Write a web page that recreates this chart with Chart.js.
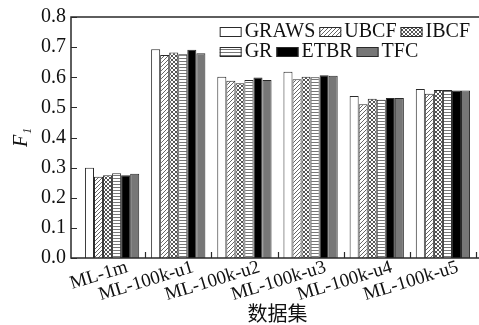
<!DOCTYPE html>
<html>
<head>
<meta charset="utf-8">
<script src="https://cdn.jsdelivr.net/npm/chart.js@4"></script>
<style>
  html, body { margin: 0; padding: 0; background: #fff; }
  #wrap { width: 479px; height: 325px; }
</style>
</head>
<body>
<div id="wrap"><canvas id="chart" width="479" height="325"></canvas></div>
<script>
const categories = ['ML-1m', 'ML-100k-u1', 'ML-100k-u2', 'ML-100k-u3', 'ML-100k-u4', 'ML-100k-u5'];
const seriesNames = ['GRAWS', 'UBCF', 'IBCF', 'GR', 'ETBR', 'TFC'];
const grawsVals = [0.300, 0.693, 0.602, 0.618, 0.538, 0.561];
const ubcfVals  = [0.270, 0.674, 0.588, 0.593, 0.510, 0.545];
const ibcfVals  = [0.275, 0.682, 0.580, 0.602, 0.529, 0.558];
const grVals    = [0.281, 0.676, 0.591, 0.600, 0.525, 0.558];
const etbrVals  = [0.275, 0.691, 0.599, 0.607, 0.531, 0.556];
const tfcVals   = [0.280, 0.680, 0.591, 0.605, 0.531, 0.556];
const yTicks = [0, 0.1, 0.2, 0.3, 0.4, 0.5, 0.6, 0.7, 0.8];

const SERIF = '"Liberation Serif", "DejaVu Serif", serif';
const INK = '#2a2a2a';

function makePattern(kind) {
  const c = document.createElement('canvas');
  const s = kind === 'horiz' ? 3 : 4;
  c.width = s; c.height = s;
  const g = c.getContext('2d');
  g.fillStyle = '#fff';
  g.fillRect(0, 0, s, s);
  g.strokeStyle = '#666';
  g.lineWidth = 1;
  if (kind === 'diag') {
    g.beginPath();
    g.moveTo(0, 4); g.lineTo(4, 0);
    g.moveTo(-1, 1); g.lineTo(1, -1);
    g.moveTo(3, 5); g.lineTo(5, 3);
    g.stroke();
  } else if (kind === 'cross') {
    g.strokeStyle = '#555';
    g.beginPath();
    g.moveTo(0, 4); g.lineTo(4, 0);
    g.moveTo(0, 0); g.lineTo(4, 4);
    g.stroke();
  } else if (kind === 'horiz') {
    g.fillStyle = '#777';
    g.fillRect(0, 1, 3, 1);
  }
  return g.createPattern(c, 'repeat');
}

const fills = ['#ffffff', makePattern('diag'), makePattern('cross'), makePattern('horiz'), '#000000', '#777777'];
const values = [grawsVals, ubcfVals, ibcfVals, grVals, etbrVals, tfcVals];

// frame, inward ticks and legend drawn inside the plot box
const framePlugin = {
  id: 'frame',
  afterDraw(chart) {
    const { ctx, chartArea } = chart;
    const x = chart.scales.x, y = chart.scales.y;
    const left = chartArea.left - 8, right = chart.width, top = chartArea.top, bottom = chartArea.bottom;
    ctx.save();
    ctx.strokeStyle = INK;
    ctx.lineWidth = 1.5;
    ctx.beginPath();
    ctx.moveTo(right, top); ctx.lineTo(left, top); ctx.lineTo(left, bottom); ctx.lineTo(right, bottom);
    ctx.stroke();
    ctx.lineWidth = 1.2;
    ctx.beginPath();
    yTicks.forEach(v => {
      const py = Math.round(y.getPixelForValue(v)) + 0.5;
      ctx.moveTo(left, py); ctx.lineTo(left + 6, py);
    });
    for (let i = 0; i < categories.length; i++) {
      const px = i < categories.length - 1
        ? (x.getPixelForValue(i) + x.getPixelForValue(i + 1)) / 2
        : chartArea.right;
      ctx.moveTo(Math.round(px) + 0.5, bottom); ctx.lineTo(Math.round(px) + 0.5, bottom - 6);
    }
    ctx.stroke();

    // legend
    ctx.font = '20px ' + SERIF;
    ctx.textBaseline = 'alphabetic';
    const boxW = 22, boxH = 10, gap = 3, itemGap = 4;
    const rows = [[0, 1, 2], [3, 4, 5]];
    const ds = chart.data.datasets;
    const rowWidth = r => r.reduce((w, i) => w + boxW + gap + ctx.measureText(ds[i].label).width + itemGap, 0) - itemGap;
    const maxW = Math.max(...rows.map(rowWidth));
    const startX = chartArea.right - 6 - maxW;
    rows.forEach((r, ri) => {
      const base = top + 20 + ri * 20;
      let cx = startX;
      r.forEach(i => {
        ctx.fillStyle = ds[i].backgroundColor;
        ctx.fillRect(cx, base - boxH, boxW, boxH);
        ctx.lineWidth = 1;
        ctx.strokeStyle = INK;
        ctx.strokeRect(cx + 0.5, base - boxH + 0.5, boxW - 1, boxH - 1);
        ctx.fillStyle = '#111';
        ctx.fillText(ds[i].label, cx + boxW + gap, base);
        cx += boxW + gap + ctx.measureText(ds[i].label).width + itemGap;
      });
    });
    ctx.restore();
  }
};

new Chart(document.getElementById('chart'), {
  type: 'bar',
  data: {
    labels: categories,
    datasets: seriesNames.map((name, i) => ({
      label: name,
      data: values[i],
      backgroundColor: fills[i],
      borderColor: INK,
      borderWidth: 1,
      borderSkipped: 'bottom',
      categoryPercentage: 0.82,
      barPercentage: 1
    }))
  },
  options: {
    responsive: false,
    animation: false,
    devicePixelRatio: 1,
    layout: { padding: { top: 17, right: 3, left: 0, bottom: 0 } },
    plugins: { legend: { display: false }, tooltip: { enabled: false } },
    scales: {
      x: {
        grid: { display: false },
        border: { display: false },
        ticks: {
          color: '#111', font: { family: SERIF, size: 19 },
          minRotation: 17, maxRotation: 17, autoSkip: false,
          labelOffset: 15, padding: -10
        },
        title: {
          display: true, text: '数据集', color: '#111',
          font: { family: '"Noto Sans CJK SC", sans-serif', size: 20 },
          padding: { top: 0, bottom: 0 }
        },
        afterFit: s => { s.height = 67; }
      },
      y: {
        min: 0, max: 0.8,
        grid: { display: false, drawTicks: false },
        border: { display: false },
        ticks: {
          stepSize: 0.1, color: '#111', padding: 13,
          font: { family: SERIF, size: 20 },
          callback: v => Number(v).toFixed(1)
        },
        title: {
          display: true, text: 'F₁', color: '#111',
          font: { family: SERIF, size: 20, style: 'italic' },
          padding: { top: 10, bottom: 0 }
        },
        afterFit: s => { s.width = 79; s.paddingTop = 0; s.paddingBottom = 0; }
      }
    }
  },
  plugins: [framePlugin]
});
</script>
</body>
</html>
